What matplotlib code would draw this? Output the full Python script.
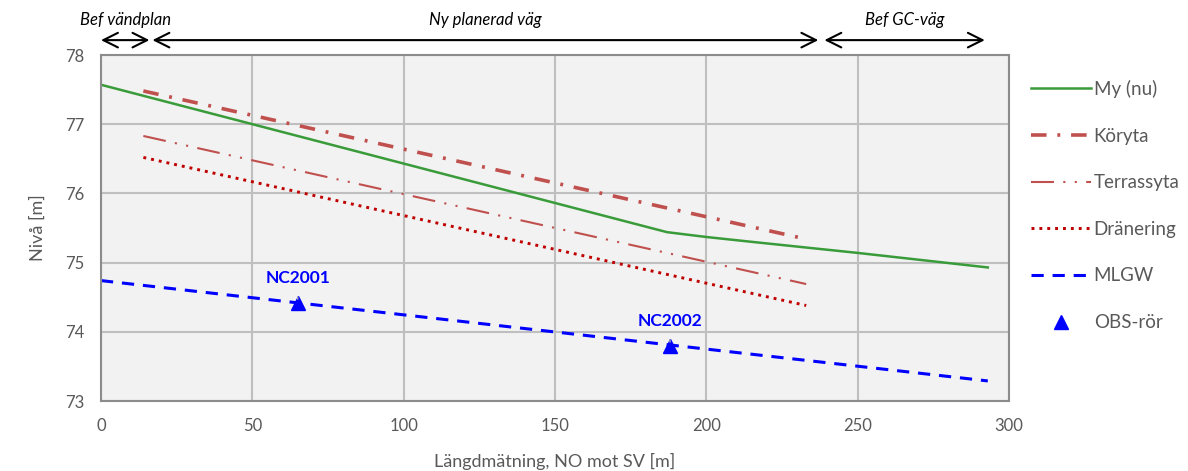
import matplotlib.pyplot as plt

plt.rcParams['font.family'] = ['Lato', 'DejaVu Sans']

# data
my_x = [0, 187, 200, 215, 250, 293]
my_y = [77.57, 75.44, 75.37, 75.30, 75.14, 74.93]
koryta_x = [14, 233]
koryta_y = [77.48, 75.34]
terrass_x = [14, 233]
terrass_y = [76.83, 74.69]
dran_x = [14, 233]
dran_y = [76.52, 74.38]
mlgw_x = [0, 293]
mlgw_y = [74.74, 73.29]
obs_x = [65, 188]
obs_y = [74.42, 73.80]
obs_names = ['NC2001', 'NC2002']

# sections along the road (start, end, label)
sections = [(0, 16, 'Bef vändplan'), (17, 237, 'Ny planerad väg'), (239, 292, 'Bef GC-väg')]

grey = '#595959'

fig = plt.figure(figsize=(11.88, 4.71), dpi=100)
ax = fig.add_axes([101/1188, 70/471, 908/1188, 346/471])
ax.set_facecolor('#F2F2F2')

ax.plot(my_x, my_y, color='#3A9B3A', lw=1.8, label='My (nu)')
ax.plot(koryta_x, koryta_y, color='#C0504D', lw=2.6, dashes=(4.3, 3.0, 0.8, 3.0), label='Köryta')
ax.plot(terrass_x, terrass_y, color='#C0504D', lw=1.5, dashes=(11, 4.5, 1, 4.5, 1, 4.5), label='Terrassyta')
ax.plot(dran_x, dran_y, color='#C00000', lw=2.1, dashes=(1, 1.7), label='Dränering')
ax.plot(mlgw_x, mlgw_y, color='#0000FF', lw=2.2, dashes=(4, 2.9), label='MLGW')
ax.plot(obs_x, obs_y, ls='none', marker='^', ms=10, color='#0000FF', label='OBS-rör')

for x, y, name in zip(obs_x, obs_y, obs_names):
    ax.annotate(name, xy=(x, y + 0.05), xytext=(x, y + 0.36), ha='center', va='center',
                color='#0000FF', fontsize=12.5, fontweight='bold',
                arrowprops=dict(arrowstyle='-', color='#A6A6A6', lw=1, shrinkA=6, shrinkB=0))

ax.set_xlim(0, 300)
ax.set_ylim(73, 78)
ax.set_xticks(range(0, 301, 50))
ax.set_yticks(range(73, 79))
ax.grid(True, color='#BFBFBF', lw=1.5)
ax.set_axisbelow(True)
for s in ax.spines.values():
    s.set_color('#8C8C8C')
    s.set_linewidth(1.5)
ax.tick_params(length=0, labelsize=12, colors=grey, pad=12)

ax.set_xlabel('Längdmätning, NO mot SV [m]', fontsize=13, color=grey, labelpad=14)
ax.set_ylabel('Nivå [m]', fontsize=13, color=grey, labelpad=14)

for x0, x1, txt in sections:
    ax.annotate('', xy=(x1, 1.043), xytext=(x0, 1.043), xycoords=('data', 'axes fraction'),
                textcoords=('data', 'axes fraction'), annotation_clip=False,
                arrowprops=dict(arrowstyle='<->,head_length=0.7,head_width=0.35', lw=1.5,
                                color='black', mutation_scale=15, shrinkA=0, shrinkB=0))
    ax.text((x0 + x1) / 2, 1.10, txt, transform=ax.get_xaxis_transform(), ha='center',
            va='center', fontsize=12, style='italic', clip_on=False)

leg = ax.legend(loc='upper left', bbox_to_anchor=(1014/1188, 1 - 63/471),
                bbox_transform=fig.transFigure, frameon=False, fontsize=13.5,
                handlelength=3.2, handletextpad=0.15, labelspacing=1.58, labelcolor=grey)

fig.savefig('out.png', dpi=100)
